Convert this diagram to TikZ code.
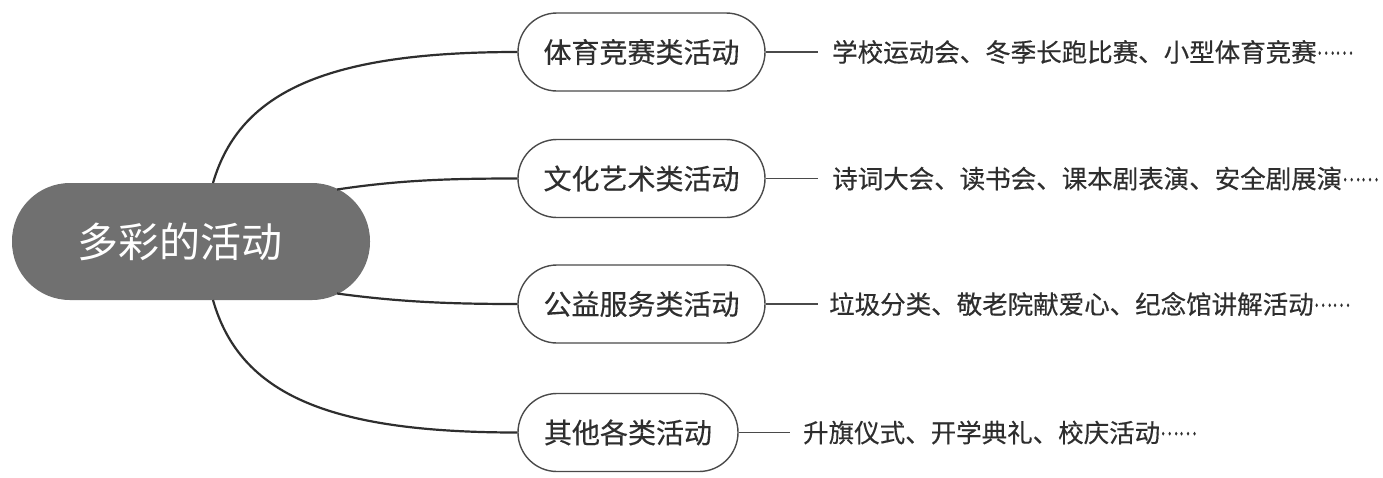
\documentclass[tikz,border=0pt]{standalone}
\usepackage{fontspec}
\usepackage{graphicx}
\setmainfont{Noto Sans CJK SC}
\usetikzlibrary{calc}
\definecolor{cfill}{HTML}{707070}
\definecolor{ink}{HTML}{2E2E2E}
\definecolor{edge}{HTML}{4A4A4A}
\newcommand\mydots{\raisebox{0.28em}{\scalebox{0.68}[1]{……}}}
\begin{document}
\begin{tikzpicture}[x=1pt,y=-1pt,
  root/.style={rectangle, rounded corners=58pt, fill=cfill, minimum width=358pt, minimum height=117pt, text=white, font=\fontsize{41}{41}\selectfont, inner sep=0pt},
  cat/.style={rectangle, rounded corners=39pt, draw=edge, line width=1.4pt, fill=white, minimum height=78pt, text=ink, font=\fontsize{28}{28}\selectfont\addfontfeatures{FakeBold=0.3}, inner sep=0pt},
  desc/.style={anchor=west, inner xsep=14pt, inner ysep=0pt, text=ink, font=\fontsize{25.5}{25.5}\selectfont\addfontfeatures{FakeBold=0.3}},
  link/.style={draw=ink, line width=2.2pt},
  tick/.style={draw=edge, line width=1.4pt}]
\useasboundingbox[fill=white] (0,0) rectangle (1383,477);

\node[root] (C) at (191,241.5) {\hspace*{-22pt}多彩的活动};

\node[cat, minimum width=247pt] (n1) at (641.5,52) {体育竞赛类活动};
\node[cat, minimum width=247pt] (n2) at (641.5,178.5) {文化艺术类活动};
\node[cat, minimum width=247pt] (n3) at (641.5,304) {公益服务类活动};
\node[cat, minimum width=220pt] (n4) at (628,432.5) {其他各类活动};

\node[desc] (d1) at (818,52) {学校运动会、冬季长跑比赛、小型体育竞赛\mydots};
\node[desc] (d2) at (818,178.5) {诗词大会、读书会、课本剧表演、安全剧展演\mydots};
\node[desc, inner xsep=11pt] (d3) at (818,304) {垃圾分类、敬老院献爱心、纪念馆讲解活动\mydots};
\node[desc, inner xsep=13pt] (d4) at (790,432.5) {升旗仪式、开学典礼、校庆活动\mydots};

\draw[link] ($(C.center)+(22,-58.5)$) .. controls (240,90) and (330,52) .. (n1.west);
\draw[link] ($(C.center)+(146,-52)$) .. controls (400,180) and (450,178.5) .. (n2.west);
\draw[link] ($(C.center)+(146,52)$) .. controls (400,302) and (450,304) .. (n3.west);
\draw[link] ($(C.center)+(22,58.5)$) .. controls (240,395) and (330,432.5) .. (n4.west);

\draw[tick] (n1.east) -- (d1.west);
\draw[tick] (n2.east) -- (d2.west);
\draw[tick] (n3.east) -- (d3.west);
\draw[tick] (n4.east) -- (d4.west);
\end{tikzpicture}
\end{document}
